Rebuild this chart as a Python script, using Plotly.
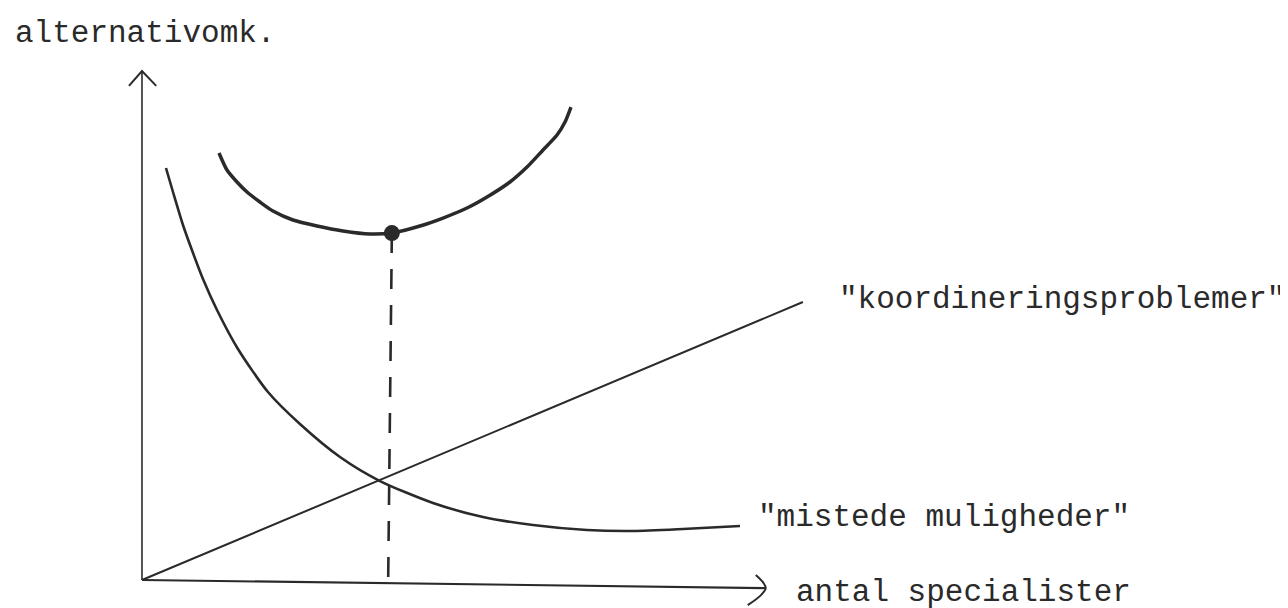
import plotly.graph_objects as go

# ---- data (conceptual units: x = antal specialister, y = alternativomk.) ----
total_x = [1.242, 1.371, 1.532, 1.694, 1.903, 2.113, 2.435, 2.823, 3.242, 3.677, 4.032,
           4.484, 4.855, 5.242, 5.565, 5.935, 6.210, 6.468, 6.694, 6.823, 6.919]
total_y = [8.356, 8.023, 7.789, 7.593, 7.397, 7.221, 7.045, 6.928, 6.830, 6.771, 6.791,
           6.928, 7.084, 7.280, 7.495, 7.789, 8.082, 8.415, 8.708, 8.963, 9.256]

missed_x = [0.387, 0.500, 0.661, 0.823, 0.984, 1.210, 1.548, 2.032, 2.548, 3.194, 3.839,
            4.694, 5.500, 6.306, 7.177, 7.919, 8.726, 9.645]
missed_y = [8.063, 7.593, 6.947, 6.399, 5.890, 5.284, 4.521, 3.679, 3.053, 2.407, 1.937,
            1.507, 1.233, 1.076, 0.978, 0.959, 0.998, 1.057]

coord_x = [0.0, 10.66]
coord_y = [0.0, 5.44]

optimum_x = [4.03]
optimum_y = [6.79]

axis_x_end = 10.06
axis_y_end = 9.96

label_y = "alternativomk."
label_x = "antal specialister"
label_coord = '"koordineringsproblemer"'
label_missed = '"mistede muligheder"'

INK = "#2a2a2a"
FONT = dict(family="Liberation Mono, DejaVu Sans Mono, monospace", size=31, color=INK)

fig = go.Figure()

# axes (hand-drawn style)
fig.add_trace(go.Scatter(x=[0, 0], y=[0, axis_y_end], mode="lines",
                         line=dict(color=INK, width=1.6), hoverinfo="skip"))
fig.add_trace(go.Scatter(x=[-0.21, 0.0, 0.23], y=[9.67, axis_y_end, 9.67], mode="lines",
                         line=dict(color=INK, width=2), hoverinfo="skip"))
fig.add_trace(go.Scatter(x=[0, axis_x_end], y=[0, -0.157], mode="lines",
                         line=dict(color=INK, width=2.2), hoverinfo="skip"))
fig.add_trace(go.Scatter(x=[9.90, 10.02, axis_x_end, 9.98, 9.77], y=[0.10, -0.05, -0.157, -0.30, -0.49],
                         mode="lines", line=dict(color=INK, width=2, shape="spline"), hoverinfo="skip"))

# koordineringsproblemer line
fig.add_trace(go.Scatter(x=coord_x, y=coord_y, mode="lines",
                         line=dict(color=INK, width=2), hoverinfo="skip"))

# mistede muligheder curve
fig.add_trace(go.Scatter(x=missed_x, y=missed_y, mode="lines",
                         line=dict(color=INK, width=2.6, shape="spline", smoothing=0.7), hoverinfo="skip"))

# total curve
fig.add_trace(go.Scatter(x=total_x, y=total_y, mode="lines",
                         line=dict(color=INK, width=3.5, shape="spline", smoothing=0.7), hoverinfo="skip"))

# dashed drop line from optimum
fig.add_trace(go.Scatter(x=[optimum_x[0], optimum_x[0] - 0.06], y=[optimum_y[0], -0.10], mode="lines",
                         line=dict(color=INK, width=2.6, dash="20px,16px"), hoverinfo="skip"))

# optimum point
fig.add_trace(go.Scatter(x=optimum_x, y=optimum_y, mode="markers",
                         marker=dict(color=INK, size=16), hoverinfo="skip"))

ann = [
    dict(x=-2.08, y=10.70, text=label_y),
    dict(x=11.21, y=5.48, text=label_coord),
    dict(x=9.90, y=1.22, text=label_missed),
    dict(x=10.52, y=-0.25, text=label_x),
]
for a in ann:
    fig.add_annotation(x=a["x"], y=a["y"], text=a["text"], xref="x", yref="y",
                       xanchor="left", yanchor="middle", showarrow=False, font=FONT)

fig.update_layout(
    width=1288, height=608,
    margin=dict(l=0, r=0, t=0, b=0),
    paper_bgcolor="white", plot_bgcolor="white",
    showlegend=False,
    xaxis=dict(range=[-2.161, 18.613], visible=False, fixedrange=True),
    yaxis=dict(range=[-0.704, 11.194], visible=False, fixedrange=True),
)

fig.write_html("out.html")
